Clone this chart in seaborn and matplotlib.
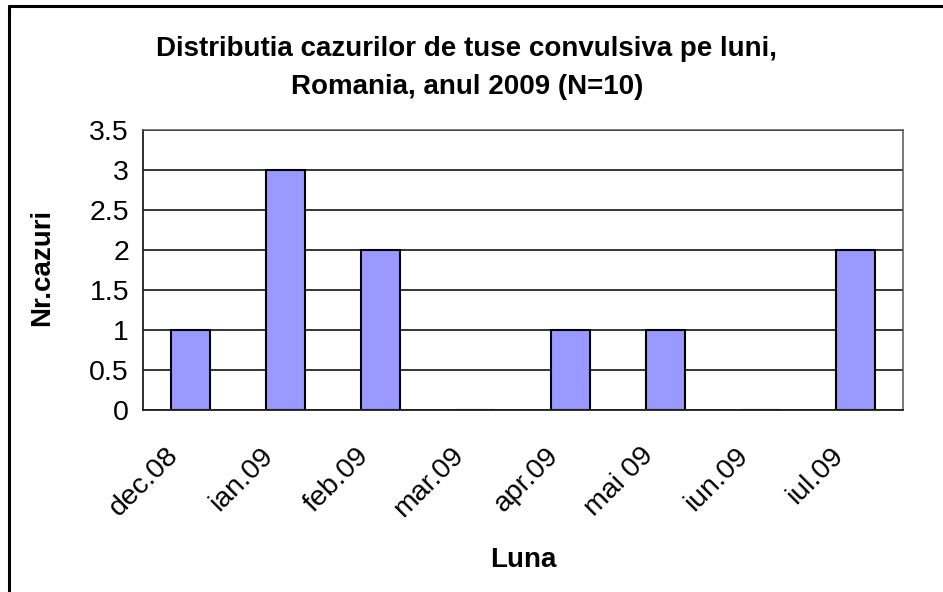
import matplotlib
matplotlib.use("Agg")
import matplotlib.pyplot as plt
import matplotlib.transforms as mtransforms
import seaborn as sns
from matplotlib.lines import Line2D
from matplotlib.ticker import MultipleLocator, FixedLocator

# Data
months = ["dec.08", "ian.09", "feb.09", "mar.09", "apr.09", "mai 09", "iun.09", "iul.09"]
cases = [1, 3, 2, 0, 1, 1, 0, 2]

title_lines = ["Distributia cazurilor de tuse convulsiva pe luni,",
               "Romania, anul 2009 (N=10)"]

sns.set_style("white")
plt.rcParams['font.family'] = ['Liberation Sans', 'DejaVu Sans']
plt.rcParams.update({"text.color": "black", "axes.labelcolor": "black",
                     "xtick.color": "black", "ytick.color": "black"})

fig = plt.figure(figsize=(9.43, 5.92), dpi=100)
W, H = 943, 592
ax = fig.add_axes([143 / W, 1 - 410 / H, 760 / W, 280 / H])

sns.barplot(x=months, y=cases, color="#9999FF", saturation=1, width=0.42,
            edgecolor="black", linewidth=1.5, ax=ax)

ax.set_xlim(-0.5, len(months) - 0.5)
ax.set_ylim(0, 3.5)
ax.yaxis.set_major_locator(MultipleLocator(0.5))
ax.set_yticklabels([f"{v:g}" for v in ax.get_yticks()])
ax.grid(axis="y", color="black", linewidth=1.1)
ax.set_axisbelow(True)

# ticks between categories, labels at centres
ax.xaxis.set_minor_locator(FixedLocator([i - 0.5 for i in range(len(months) + 1)]))
ax.tick_params(axis="x", which="minor", length=7, width=1.2, color="#404040", direction="out")
ax.tick_params(axis="x", which="major", length=0, pad=30, labelsize=20.5)
ax.tick_params(axis="y", length=7, width=1.1, color="black", direction="out", labelsize=20.5, pad=3)
shift = mtransforms.ScaledTranslation(-16 / 100, 0, fig.dpi_scale_trans)
for lbl in ax.get_xticklabels():
    lbl.set_rotation(45)
    lbl.set_ha("right")
    lbl.set_va("center")
    lbl.set_rotation_mode("anchor")
    lbl.set_transform(lbl.get_transform() + shift)

for side in ["left", "bottom"]:
    ax.spines[side].set_color("#202020")
    ax.spines[side].set_linewidth(1.3)
for side in ["top", "right"]:
    ax.spines[side].set_color("#555555")
    ax.spines[side].set_linewidth(1.1)

ax.set_xlabel("Luna", fontsize=20, fontweight="bold")
ax.set_ylabel("Nr.cazuri", fontsize=20, fontweight="bold")
ax.xaxis.set_label_coords(0.5, -0.49)
ax.yaxis.set_label_coords(-0.116, 0.51)

fig.text(467 / W, 1 - 49 / H, title_lines[0], ha="center", va="center",
         fontsize=20, fontweight="bold")
fig.text(467 / W, 1 - 87 / H, title_lines[1], ha="center", va="center",
         fontsize=20, fontweight="bold")

# outer chart frame (top and left edges visible)
fig.add_artist(Line2D([9 / W, 1], [1 - 6 / H, 1 - 6 / H], color="black", linewidth=2.2,
                      transform=fig.transFigure))
fig.add_artist(Line2D([9 / W, 9 / W], [0, 1 - 6 / H], color="black", linewidth=2.2,
                      transform=fig.transFigure))

fig.savefig("out.png", dpi=100)
